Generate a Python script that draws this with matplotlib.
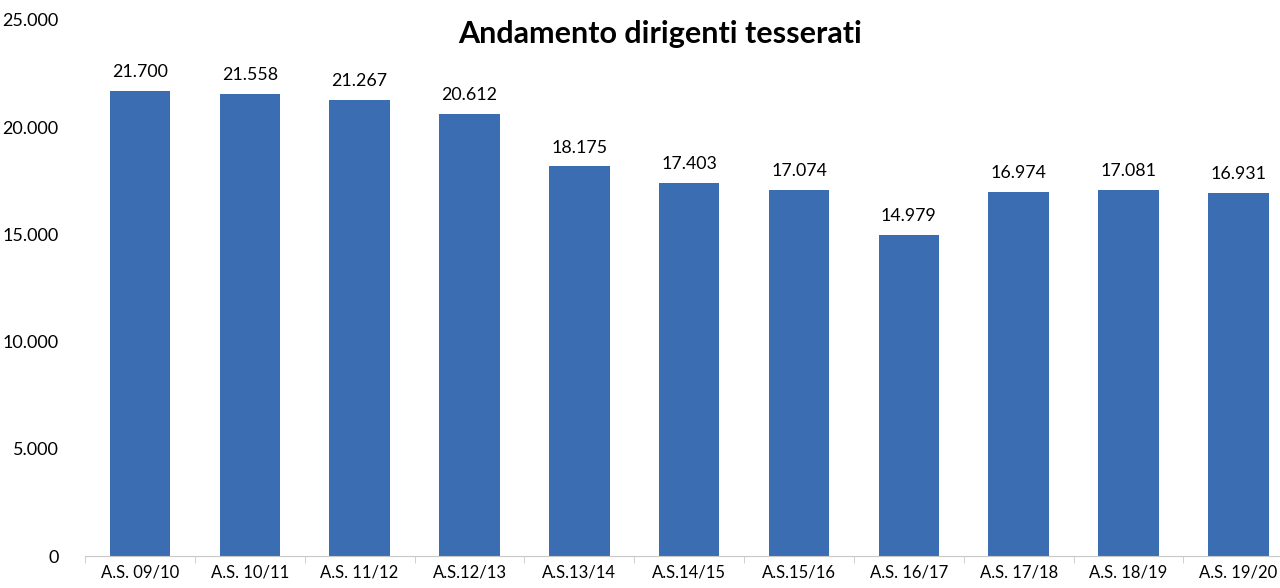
import matplotlib.pyplot as plt
import numpy as np

seasons = ["A.S. 09/10", "A.S. 10/11", "A.S. 11/12", "A.S.12/13", "A.S.13/14",
           "A.S.14/15", "A.S.15/16", "A.S. 16/17", "A.S. 17/18", "A.S. 18/19",
           "A.S. 19/20"]
dirigenti = [21700, 21558, 21267, 20612, 18175, 17403, 17074, 14979, 16974,
             17081, 16931]
y_ticks = [0, 5000, 10000, 15000, 20000, 25000]


def fmt(v):
    return "{:,}".format(v).replace(",", ".")


plt.rcParams['font.family'] = ['Lato', 'DejaVu Sans']

fig = plt.figure(figsize=(12.8, 5.88), dpi=100)
ax = fig.add_axes([0.0664, 0.0544, 0.944, 0.9116])

x = np.arange(len(seasons))
bars = ax.bar(x, dirigenti, width=0.55, color="#3b6db3")

for xi, v in zip(x, dirigenti):
    ax.text(xi, v + 500, fmt(v), ha="center", va="bottom", fontsize=12.8)

ax.set_xlim(-0.5, len(seasons) - 0.5)
ax.set_ylim(0, 25000)
ax.set_yticks(y_ticks)
ax.set_yticklabels([fmt(v) if v else "0" for v in y_ticks], fontsize=13)
ax.tick_params(axis="y", length=0, pad=19)

ax.set_xticks(x)
ax.set_xticklabels(seasons, fontsize=12)
ax.set_xticks(np.arange(-0.5, len(seasons)), minor=True)
ax.tick_params(axis="x", which="major", length=0, pad=6)
ax.tick_params(axis="x", which="minor", length=5, color="#c8c8c8")

for side in ["top", "right", "left"]:
    ax.spines[side].set_visible(False)
ax.spines["bottom"].set_color("#c8c8c8")

fig.text(0.516, 0.943, "Andamento dirigenti tesserati", ha="center",
         va="center", fontsize=22, fontweight="bold")

fig.savefig("out.png", dpi=100)
